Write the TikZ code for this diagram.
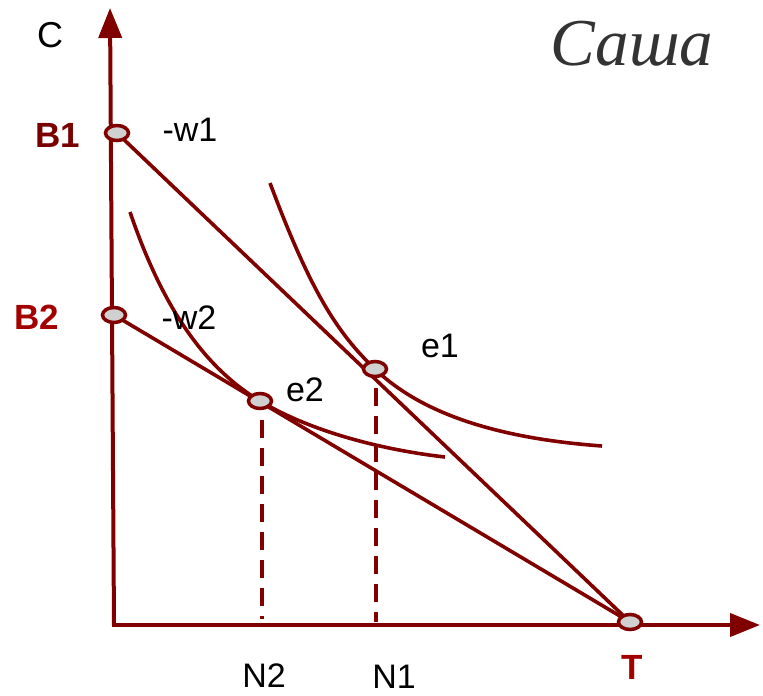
\documentclass[tikz,border=0pt]{standalone}
\usepackage{fontspec}
\setmainfont{Liberation Sans}
\newfontfamily\titlefont{Liberation Serif}
\usetikzlibrary{arrows.meta,shapes.geometric}
\definecolor{axred}{HTML}{800000}
\definecolor{lbldark}{HTML}{7A0000}
\definecolor{lblred}{HTML}{A30000}
\definecolor{ptfill}{HTML}{D0D0D0}
\definecolor{titlegray}{HTML}{333333}
\tikzset{
  axis/.style={draw=axred, line width=4pt, -{Triangle[width=23pt,length=30pt]}},
  budget/.style={draw=axred, line width=3.6pt},
  indiff/.style={draw=axred, line width=3.6pt},
  guide/.style={draw=axred, line width=3.6pt, dash pattern=on 18pt off 10pt},
  ptmark/.style={ellipse, draw=axred, line width=3.5pt, fill=ptfill, minimum width=23pt, minimum height=15pt, inner sep=0pt},
  lbl/.style={font=\fontsize{34}{40}\selectfont, text=black, inner sep=0pt},
  nlbl/.style={font=\fontsize{34}{40}\selectfont, text=black, inner sep=0pt},
  blbl/.style={font=\fontsize{35}{40}\selectfont\bfseries, inner sep=0pt},
}
\begin{document}
\begin{tikzpicture}[x=1pt,y=-1pt]
\useasboundingbox (0,0) rectangle (763,696);
% coordinates
\coordinate (O) at (114,625);
\coordinate (ytip) at (110,8);
\coordinate (xtip) at (760,625);
\coordinate (cB1) at (117,133);
\coordinate (cB2) at (114,315);
\coordinate (ce1) at (375,369);
\coordinate (ce2) at (260,401);
\coordinate (cT) at (630,622);
\coordinate (f2) at (262,619);
\coordinate (f1) at (376,622);
% axes
\draw[axis] (O) -- (ytip);
\draw[axis] ([xshift=-2pt]O) -- (xtip);
% budget lines
\draw[budget] (cB1) -- (cT);
\draw[budget] (cB2) -- (cT);
% dashed guides
\draw[guide] ([yshift=9pt]ce2 -| f2) -- (f2);
\draw[guide] ([yshift=9pt]ce1 -| f1) -- (f1);
% indifference curves
\draw[indiff] (270,183) .. controls (310,290) and (337,333) .. (ce1)
  .. controls (430,422) and (520,440) .. (602,446);
\draw[indiff] (130,212) .. controls (160,300) and (200,365) .. (ce2)
  .. controls (320,437) and (400,452) .. (445,457);
% points
\node[ptmark] (B1) at (cB1) {};
\node[ptmark] (B2) at (cB2) {};
\node[ptmark] (e1) at (ce1) {};
\node[ptmark] (e2) at (ce2) {};
\node[ptmark] (T) at (cT) {};
% labels
\node[font=\fontsize{36}{42}\selectfont, inner sep=0pt] (Clbl) at (50,35) {C};
\node[blbl, text=lbldark] (B1lbl) at (58,135) {B1};
\node[blbl, text=lblred] (B2lbl) at (37,317) {B2};
\node[blbl, text=lblred] (Tlbl) at (632,667) {T};
\node[lbl] (w1lbl) at (190,130) {-w1};
\node[lbl] (w2lbl) at (189,318) {-w2};
\node[lbl] (e1lbl) at (440,346) {e1};
\node[lbl] (e2lbl) at (305,390) {e2};
\node[nlbl] (N2lbl) at (264,676) {N2};
\node[nlbl] (N1lbl) at (394,677) {N1};
\node[font=\fontsize{67}{72}\selectfont\titlefont\itshape, text=titlegray, inner sep=0pt, anchor=base] (title) at (632,65) {Саша};
\end{tikzpicture}
\end{document}
